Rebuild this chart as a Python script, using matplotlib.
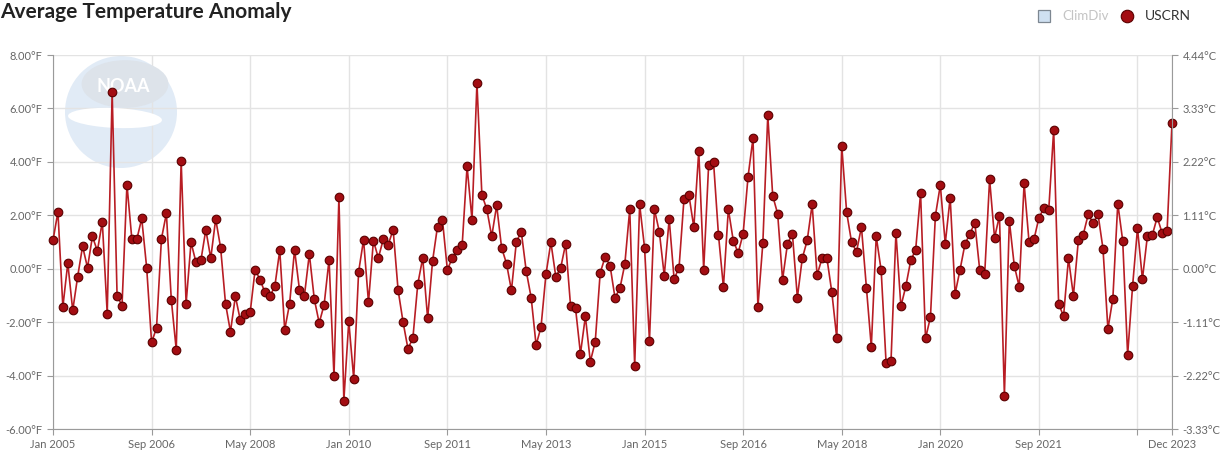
import matplotlib
matplotlib.use("Agg")
import matplotlib.pyplot as plt
from matplotlib.patches import Ellipse
from matplotlib.lines import Line2D

# monthly USCRN anomaly (deg F), Jan 2005 .. Dec 2023
uscrn = [
    1.06, 2.13, -1.43, 0.21, -1.56, -0.30, 0.84, 0.04, 1.21, 0.66, 1.76, -1.68,   # 2005
    6.61, -1.01, -1.38, 3.15, 1.10, 1.10, 1.88, 0.04, -2.76, -2.22, 1.12, 2.07,   # 2006
    -1.16, -3.03, 4.03, -1.31, 0.99, 0.24, 0.31, 1.46, 0.39, 1.86, 0.79, -1.31,   # 2007
    -2.36, -1.03, -1.93, -1.68, -1.63, -0.04, -0.41, -0.89, -1.03, -0.66, 0.69, -2.28,  # 2008
    -1.31, 0.71, -0.79, -1.01, 0.55, -1.13, -2.03, -1.35, 0.34, -4.03, 2.68, -4.94,  # 2009
    -1.97, -4.11, -0.11, 1.08, -1.26, 1.05, 0.40, 1.10, 0.90, 1.46, -0.79, -1.98,  # 2010
    -2.99, -2.61, -0.57, 0.40, -1.86, 0.29, 1.58, 1.83, -0.04, 0.40, 0.71, 0.87,   # 2011
    3.83, 1.83, 6.95, 2.77, 2.23, 1.21, 2.37, 0.79, 0.19, -0.81, 1.01, 1.38,      # 2012
    -0.09, -1.08, -2.86, -2.18, -0.21, 0.99, -0.30, 0.04, 0.94, -1.41, -1.48, -3.18,  # 2013
    -1.78, -3.48, -2.73, -0.16, 0.44, 0.12, -1.08, -0.74, 0.17, 2.23, -3.65, 2.41,  # 2014
    0.79, -2.69, 2.23, 1.38, -0.26, 1.86, -0.39, 0.04, 2.61, 2.76, 1.55, 4.41,    # 2015
    -0.04, 3.88, 3.98, 1.26, -0.69, 2.23, 1.05, 0.59, 1.31, 3.45, 4.88, -1.43,    # 2016
    0.96, 5.74, 2.73, 2.06, -0.41, 0.94, 1.30, -1.08, 0.39, 1.06, 2.41, -0.24,    # 2017
    0.39, 0.39, -0.89, -2.61, 4.60, 2.11, 0.99, 0.64, 1.56, -0.71, -2.93, 1.21,   # 2018
    -0.06, -3.53, -3.45, 1.35, -1.41, -0.66, 0.31, 0.71, 2.83, -2.61, -1.81, 1.98,  # 2019
    3.13, 0.94, 2.66, -0.94, -0.04, 0.92, 1.31, 1.72, -0.06, -0.21, 3.35, 1.16,   # 2020
    1.98, -4.75, 1.80, 0.12, -0.67, 3.19, 1.00, 1.10, 1.90, 2.27, 2.21, 5.20,     # 2021
    -1.31, -1.78, 0.39, -1.01, 1.06, 1.28, 2.03, 1.71, 2.03, 0.75, -2.26, -1.12,  # 2022
    2.44, 1.05, -3.23, -0.66, 1.51, -0.39, 1.21, 1.25, 1.93, 1.33, 1.40, 5.45,    # 2023
]
months = list(range(len(uscrn)))

tick_pos = [0, 20, 40, 60, 80, 100, 120, 140, 160, 180, 200, 220, 227]
tick_lab = ["Jan 2005", "Sep 2006", "May 2008", "Jan 2010", "Sep 2011", "May 2013",
            "Jan 2015", "Sep 2016", "May 2018", "Jan 2020", "Sep 2021", "", "Dec 2023"]
f_ticks = [-6, -4, -2, 0, 2, 4, 6, 8]

plt.rcParams['font.family'] = ['Lato', 'DejaVu Sans']

W, H = 1226, 454
fig = plt.figure(figsize=(W / 100, H / 100), dpi=100)
x0, x1, ytop, ybot = 53, 1172, 55, 429
ax = fig.add_axes([x0 / W, (H - ybot) / H, (x1 - x0) / W, (ybot - ytop) / H])

grid_c = "#e3e3e3"
axis_c = "#9a9a9a"
lab_c = "#666666"

# faint NOAA logo behind the data
aw, ah = x1 - x0, ybot - ytop
cx, cy, r = 121 - x0, 112 - ytop, 56


def px(xp, yp):
    # pixel offsets inside the axes -> axes fraction
    return xp / aw, 1 - yp / ah


ax.add_patch(Ellipse(px(cx, cy), 2 * r / aw, 2 * r / ah,
                     transform=ax.transAxes, color="#e1ebf6", zorder=0.5, lw=0))
ax.add_patch(Ellipse(px(cx + 4, cy - 28), 1.55 * r / aw, 0.85 * r / ah,
                     transform=ax.transAxes, color="#dde3ea", zorder=0.6, lw=0))
ax.add_patch(Ellipse(px(cx - 6, cy + 6), 1.7 * r / aw, 0.35 * r / ah, angle=-12,
                     transform=ax.transAxes, color="white", zorder=0.65, lw=0))
ax.text(*px(cx + 2, cy - 25), "NOAA", transform=ax.transAxes, color="white",
        ha="center", va="center", fontsize=13, fontweight="bold", zorder=0.7)

ax.plot(months, uscrn, color="#b81d24", lw=1.2, marker="o", markersize=6.2,
        markerfacecolor="#a30d12", markeredgecolor="#5a0000", markeredgewidth=0.8,
        clip_on=False, zorder=3)

ax.set_xlim(0, 227)
ax.set_ylim(-6, 8)
ax.set_xticks(tick_pos)
ax.set_xticklabels(tick_lab)
ax.set_yticks(f_ticks)
ax.set_yticklabels(["%.2f°F" % v for v in f_ticks])
ax.grid(True, color=grid_c, lw=1)
ax.set_axisbelow(True)
for s in ["top", "right"]:
    ax.spines[s].set_visible(False)
for s in ["left", "bottom"]:
    ax.spines[s].set_color(axis_c)
ax.tick_params(axis="both", colors=axis_c, labelcolor=lab_c, labelsize=8, length=4)

ax2 = ax.twinx()
ax2.set_ylim(-6 * 5 / 9, 8 * 5 / 9)
ax2.set_yticks([v * 5 / 9 for v in f_ticks])
ax2.set_yticklabels(["%.2f°C" % (v * 5 / 9) for v in f_ticks])
for s in ["top", "left", "bottom"]:
    ax2.spines[s].set_visible(False)
ax2.spines["right"].set_color(axis_c)
ax2.tick_params(axis="y", colors=axis_c, labelcolor=lab_c, labelsize=8, length=4)

fig.text(0.0, 1 - 12 / H, "Average Temperature Anomaly", fontsize=15, fontweight="bold",
         color="#222222", ha="left", va="center")

# legend
ly = 1 - 16 / H
fig.add_artist(Line2D([1044 / W], [ly], transform=fig.transFigure, marker="s", markersize=8,
                      markerfacecolor="#cfe0f1", markeredgecolor="#7d8791", markeredgewidth=0.9))
fig.text(1062 / W, ly, "ClimDiv", fontsize=9.5, color="#c4c4c4", va="center")
fig.add_artist(Line2D([1127 / W], [ly], transform=fig.transFigure, marker="o", markersize=9,
                      markerfacecolor="#a30d12", markeredgecolor="#5a0000", markeredgewidth=0.8))
fig.text(1145 / W, ly, "USCRN", fontsize=10, color="#333333", va="center")

fig.savefig("out.png", dpi=100)
